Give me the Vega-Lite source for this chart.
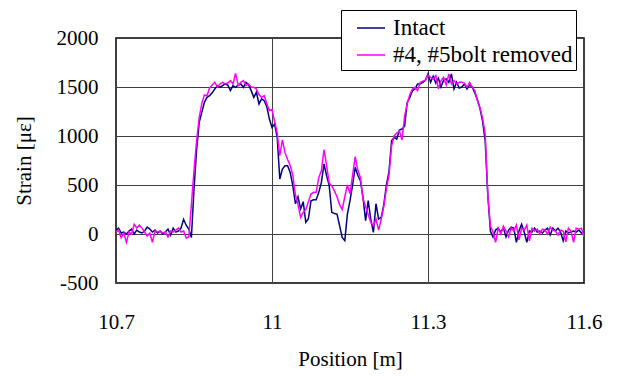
{
  "$schema": "https://vega.github.io/schema/vega-lite/v6.json",
  "width": 468,
  "height": 245,
  "autosize": {"type": "none"},
  "padding": {"left": 116, "top": 38, "right": 37, "bottom": 93},
  "background": "white",
  "config": {
    "font": "Liberation Serif, serif",
    "view": {"stroke": "#000", "strokeWidth": 1.5}
  },
  "data": {"values": [
    {"p":10.700,"s":40,"c":"Intact"},{"p":10.705,"s":60,"c":"Intact"},{"p":10.710,"s":10,"c":"Intact"},{"p":10.715,"s":20,"c":"Intact"},{"p":10.720,"s":0,"c":"Intact"},
    {"p":10.725,"s":30,"c":"Intact"},{"p":10.730,"s":50,"c":"Intact"},{"p":10.735,"s":0,"c":"Intact"},{"p":10.740,"s":40,"c":"Intact"},{"p":10.745,"s":20,"c":"Intact"},
    {"p":10.750,"s":10,"c":"Intact"},{"p":10.755,"s":30,"c":"Intact"},{"p":10.760,"s":70,"c":"Intact"},{"p":10.765,"s":50,"c":"Intact"},{"p":10.770,"s":20,"c":"Intact"},
    {"p":10.775,"s":40,"c":"Intact"},{"p":10.780,"s":10,"c":"Intact"},{"p":10.785,"s":30,"c":"Intact"},{"p":10.790,"s":0,"c":"Intact"},{"p":10.795,"s":20,"c":"Intact"},
    {"p":10.800,"s":50,"c":"Intact"},{"p":10.805,"s":-10,"c":"Intact"},{"p":10.810,"s":60,"c":"Intact"},{"p":10.815,"s":20,"c":"Intact"},{"p":10.820,"s":30,"c":"Intact"},
    {"p":10.825,"s":60,"c":"Intact"},{"p":10.830,"s":150,"c":"Intact"},{"p":10.835,"s":90,"c":"Intact"},{"p":10.840,"s":50,"c":"Intact"},{"p":10.845,"s":-35,"c":"Intact"},
    {"p":10.850,"s":459,"c":"Intact"},{"p":10.855,"s":860,"c":"Intact"},{"p":10.860,"s":1139,"c":"Intact"},{"p":10.865,"s":1241,"c":"Intact"},{"p":10.870,"s":1343,"c":"Intact"},
    {"p":10.875,"s":1394,"c":"Intact"},{"p":10.880,"s":1411,"c":"Intact"},{"p":10.885,"s":1440,"c":"Intact"},{"p":10.890,"s":1480,"c":"Intact"},{"p":10.895,"s":1514,"c":"Intact"},
    {"p":10.900,"s":1497,"c":"Intact"},{"p":10.905,"s":1514,"c":"Intact"},{"p":10.910,"s":1531,"c":"Intact"},{"p":10.915,"s":1520,"c":"Intact"},{"p":10.920,"s":1463,"c":"Intact"},
    {"p":10.925,"s":1514,"c":"Intact"},{"p":10.930,"s":1497,"c":"Intact"},{"p":10.935,"s":1520,"c":"Intact"},{"p":10.940,"s":1531,"c":"Intact"},{"p":10.945,"s":1497,"c":"Intact"},
    {"p":10.950,"s":1548,"c":"Intact"},{"p":10.955,"s":1520,"c":"Intact"},{"p":10.960,"s":1463,"c":"Intact"},{"p":10.965,"s":1394,"c":"Intact"},{"p":10.970,"s":1446,"c":"Intact"},
    {"p":10.975,"s":1327,"c":"Intact"},{"p":10.980,"s":1378,"c":"Intact"},{"p":10.985,"s":1360,"c":"Intact"},{"p":10.990,"s":1300,"c":"Intact"},{"p":10.995,"s":1173,"c":"Intact"},
    {"p":11.000,"s":1088,"c":"Intact"},{"p":11.005,"s":1122,"c":"Intact"},{"p":11.010,"s":986,"c":"Intact"},{"p":11.015,"s":561,"c":"Intact"},{"p":11.020,"s":663,"c":"Intact"},
    {"p":11.025,"s":697,"c":"Intact"},{"p":11.030,"s":697,"c":"Intact"},{"p":11.035,"s":629,"c":"Intact"},{"p":11.040,"s":493,"c":"Intact"},{"p":11.045,"s":309,"c":"Intact"},
    {"p":11.050,"s":380,"c":"Intact"},{"p":11.055,"s":255,"c":"Intact"},{"p":11.060,"s":330,"c":"Intact"},{"p":11.065,"s":119,"c":"Intact"},{"p":11.070,"s":156,"c":"Intact"},
    {"p":11.075,"s":340,"c":"Intact"},{"p":11.080,"s":350,"c":"Intact"},{"p":11.085,"s":350,"c":"Intact"},{"p":11.090,"s":425,"c":"Intact"},{"p":11.095,"s":527,"c":"Intact"},
    {"p":11.100,"s":714,"c":"Intact"},{"p":11.105,"s":595,"c":"Intact"},{"p":11.110,"s":493,"c":"Intact"},{"p":11.115,"s":221,"c":"Intact"},{"p":11.120,"s":210,"c":"Intact"},
    {"p":11.125,"s":204,"c":"Intact"},{"p":11.130,"s":85,"c":"Intact"},{"p":11.135,"s":-35,"c":"Intact"},{"p":11.140,"s":-68,"c":"Intact"},{"p":11.145,"s":204,"c":"Intact"},
    {"p":11.150,"s":340,"c":"Intact"},{"p":11.155,"s":500,"c":"Intact"},{"p":11.160,"s":680,"c":"Intact"},{"p":11.165,"s":600,"c":"Intact"},{"p":11.170,"s":544,"c":"Intact"},
    {"p":11.175,"s":374,"c":"Intact"},{"p":11.180,"s":136,"c":"Intact"},{"p":11.185,"s":340,"c":"Intact"},{"p":11.190,"s":150,"c":"Intact"},{"p":11.195,"s":17,"c":"Intact"},
    {"p":11.200,"s":309,"c":"Intact"},{"p":11.205,"s":153,"c":"Intact"},{"p":11.210,"s":170,"c":"Intact"},{"p":11.215,"s":300,"c":"Intact"},{"p":11.220,"s":500,"c":"Intact"},
    {"p":11.225,"s":640,"c":"Intact"},{"p":11.230,"s":952,"c":"Intact"},{"p":11.235,"s":986,"c":"Intact"},{"p":11.240,"s":969,"c":"Intact"},{"p":11.245,"s":1060,"c":"Intact"},
    {"p":11.250,"s":1071,"c":"Intact"},{"p":11.255,"s":1100,"c":"Intact"},{"p":11.260,"s":1343,"c":"Intact"},{"p":11.265,"s":1394,"c":"Intact"},{"p":11.270,"s":1460,"c":"Intact"},
    {"p":11.275,"s":1480,"c":"Intact"},{"p":11.280,"s":1531,"c":"Intact"},{"p":11.285,"s":1531,"c":"Intact"},{"p":11.290,"s":1548,"c":"Intact"},{"p":11.295,"s":1570,"c":"Intact"},
    {"p":11.300,"s":1633,"c":"Intact"},{"p":11.305,"s":1548,"c":"Intact"},{"p":11.310,"s":1610,"c":"Intact"},{"p":11.315,"s":1540,"c":"Intact"},{"p":11.320,"s":1590,"c":"Intact"},
    {"p":11.325,"s":1500,"c":"Intact"},{"p":11.330,"s":1570,"c":"Intact"},{"p":11.335,"s":1582,"c":"Intact"},{"p":11.340,"s":1548,"c":"Intact"},{"p":11.345,"s":1633,"c":"Intact"},
    {"p":11.350,"s":1480,"c":"Intact"},{"p":11.355,"s":1548,"c":"Intact"},{"p":11.360,"s":1490,"c":"Intact"},{"p":11.365,"s":1500,"c":"Intact"},{"p":11.370,"s":1531,"c":"Intact"},
    {"p":11.375,"s":1480,"c":"Intact"},{"p":11.380,"s":1520,"c":"Intact"},{"p":11.385,"s":1500,"c":"Intact"},{"p":11.390,"s":1440,"c":"Intact"},{"p":11.395,"s":1370,"c":"Intact"},
    {"p":11.400,"s":1280,"c":"Intact"},{"p":11.405,"s":1150,"c":"Intact"},{"p":11.410,"s":950,"c":"Intact"},{"p":11.415,"s":400,"c":"Intact"},{"p":11.420,"s":30,"c":"Intact"},
    {"p":11.425,"s":-30,"c":"Intact"},{"p":11.430,"s":40,"c":"Intact"},{"p":11.435,"s":60,"c":"Intact"},{"p":11.440,"s":20,"c":"Intact"},{"p":11.445,"s":60,"c":"Intact"},
    {"p":11.450,"s":-30,"c":"Intact"},{"p":11.455,"s":40,"c":"Intact"},{"p":11.460,"s":70,"c":"Intact"},{"p":11.465,"s":60,"c":"Intact"},{"p":11.470,"s":-85,"c":"Intact"},
    {"p":11.475,"s":30,"c":"Intact"},{"p":11.480,"s":100,"c":"Intact"},{"p":11.485,"s":20,"c":"Intact"},{"p":11.490,"s":-85,"c":"Intact"},{"p":11.495,"s":30,"c":"Intact"},
    {"p":11.500,"s":20,"c":"Intact"},{"p":11.505,"s":60,"c":"Intact"},{"p":11.510,"s":20,"c":"Intact"},{"p":11.515,"s":30,"c":"Intact"},{"p":11.520,"s":10,"c":"Intact"},
    {"p":11.525,"s":40,"c":"Intact"},{"p":11.530,"s":60,"c":"Intact"},{"p":11.535,"s":-10,"c":"Intact"},{"p":11.540,"s":60,"c":"Intact"},{"p":11.545,"s":30,"c":"Intact"},
    {"p":11.550,"s":60,"c":"Intact"},{"p":11.555,"s":20,"c":"Intact"},{"p":11.560,"s":-68,"c":"Intact"},{"p":11.565,"s":30,"c":"Intact"},{"p":11.570,"s":10,"c":"Intact"},
    {"p":11.575,"s":20,"c":"Intact"},{"p":11.580,"s":30,"c":"Intact"},{"p":11.585,"s":20,"c":"Intact"},{"p":11.590,"s":40,"c":"Intact"},{"p":11.595,"s":10,"c":"Intact"},
    {"p":11.600,"s":20,"c":"Intact"},

    {"p":10.700,"s":20,"c":"#4, #5bolt removed"},{"p":10.705,"s":40,"c":"#4, #5bolt removed"},{"p":10.710,"s":-40,"c":"#4, #5bolt removed"},{"p":10.715,"s":10,"c":"#4, #5bolt removed"},{"p":10.720,"s":-85,"c":"#4, #5bolt removed"},
    {"p":10.725,"s":20,"c":"#4, #5bolt removed"},{"p":10.730,"s":0,"c":"#4, #5bolt removed"},{"p":10.735,"s":100,"c":"#4, #5bolt removed"},{"p":10.740,"s":60,"c":"#4, #5bolt removed"},{"p":10.745,"s":90,"c":"#4, #5bolt removed"},
    {"p":10.750,"s":60,"c":"#4, #5bolt removed"},{"p":10.755,"s":20,"c":"#4, #5bolt removed"},{"p":10.760,"s":-20,"c":"#4, #5bolt removed"},{"p":10.765,"s":10,"c":"#4, #5bolt removed"},{"p":10.770,"s":-85,"c":"#4, #5bolt removed"},
    {"p":10.775,"s":30,"c":"#4, #5bolt removed"},{"p":10.780,"s":20,"c":"#4, #5bolt removed"},{"p":10.785,"s":30,"c":"#4, #5bolt removed"},{"p":10.790,"s":10,"c":"#4, #5bolt removed"},{"p":10.795,"s":20,"c":"#4, #5bolt removed"},
    {"p":10.800,"s":-30,"c":"#4, #5bolt removed"},{"p":10.805,"s":30,"c":"#4, #5bolt removed"},{"p":10.810,"s":20,"c":"#4, #5bolt removed"},{"p":10.815,"s":40,"c":"#4, #5bolt removed"},{"p":10.820,"s":60,"c":"#4, #5bolt removed"},
    {"p":10.825,"s":20,"c":"#4, #5bolt removed"},{"p":10.830,"s":30,"c":"#4, #5bolt removed"},{"p":10.835,"s":-40,"c":"#4, #5bolt removed"},{"p":10.840,"s":-30,"c":"#4, #5bolt removed"},{"p":10.845,"s":300,"c":"#4, #5bolt removed"},
    {"p":10.850,"s":650,"c":"#4, #5bolt removed"},{"p":10.855,"s":950,"c":"#4, #5bolt removed"},{"p":10.860,"s":1190,"c":"#4, #5bolt removed"},{"p":10.865,"s":1330,"c":"#4, #5bolt removed"},{"p":10.870,"s":1420,"c":"#4, #5bolt removed"},
    {"p":10.875,"s":1411,"c":"#4, #5bolt removed"},{"p":10.880,"s":1490,"c":"#4, #5bolt removed"},{"p":10.885,"s":1520,"c":"#4, #5bolt removed"},{"p":10.890,"s":1548,"c":"#4, #5bolt removed"},{"p":10.895,"s":1500,"c":"#4, #5bolt removed"},
    {"p":10.900,"s":1531,"c":"#4, #5bolt removed"},{"p":10.905,"s":1548,"c":"#4, #5bolt removed"},{"p":10.910,"s":1531,"c":"#4, #5bolt removed"},{"p":10.915,"s":1540,"c":"#4, #5bolt removed"},{"p":10.920,"s":1565,"c":"#4, #5bolt removed"},
    {"p":10.925,"s":1531,"c":"#4, #5bolt removed"},{"p":10.930,"s":1640,"c":"#4, #5bolt removed"},{"p":10.935,"s":1514,"c":"#4, #5bolt removed"},{"p":10.940,"s":1548,"c":"#4, #5bolt removed"},{"p":10.945,"s":1565,"c":"#4, #5bolt removed"},
    {"p":10.950,"s":1514,"c":"#4, #5bolt removed"},{"p":10.955,"s":1531,"c":"#4, #5bolt removed"},{"p":10.960,"s":1500,"c":"#4, #5bolt removed"},{"p":10.965,"s":1497,"c":"#4, #5bolt removed"},{"p":10.970,"s":1480,"c":"#4, #5bolt removed"},
    {"p":10.975,"s":1420,"c":"#4, #5bolt removed"},{"p":10.980,"s":1394,"c":"#4, #5bolt removed"},{"p":10.985,"s":1411,"c":"#4, #5bolt removed"},{"p":10.990,"s":1330,"c":"#4, #5bolt removed"},{"p":10.995,"s":1260,"c":"#4, #5bolt removed"},
    {"p":11.000,"s":1270,"c":"#4, #5bolt removed"},{"p":11.005,"s":1150,"c":"#4, #5bolt removed"},{"p":11.010,"s":1030,"c":"#4, #5bolt removed"},{"p":11.015,"s":800,"c":"#4, #5bolt removed"},{"p":11.020,"s":960,"c":"#4, #5bolt removed"},
    {"p":11.025,"s":830,"c":"#4, #5bolt removed"},{"p":11.030,"s":760,"c":"#4, #5bolt removed"},{"p":11.035,"s":700,"c":"#4, #5bolt removed"},{"p":11.040,"s":600,"c":"#4, #5bolt removed"},{"p":11.045,"s":400,"c":"#4, #5bolt removed"},
    {"p":11.050,"s":300,"c":"#4, #5bolt removed"},{"p":11.055,"s":170,"c":"#4, #5bolt removed"},{"p":11.060,"s":221,"c":"#4, #5bolt removed"},{"p":11.065,"s":250,"c":"#4, #5bolt removed"},{"p":11.070,"s":330,"c":"#4, #5bolt removed"},
    {"p":11.075,"s":408,"c":"#4, #5bolt removed"},{"p":11.080,"s":425,"c":"#4, #5bolt removed"},{"p":11.085,"s":425,"c":"#4, #5bolt removed"},{"p":11.090,"s":578,"c":"#4, #5bolt removed"},{"p":11.095,"s":646,"c":"#4, #5bolt removed"},
    {"p":11.100,"s":860,"c":"#4, #5bolt removed"},{"p":11.105,"s":700,"c":"#4, #5bolt removed"},{"p":11.110,"s":520,"c":"#4, #5bolt removed"},{"p":11.115,"s":490,"c":"#4, #5bolt removed"},{"p":11.120,"s":440,"c":"#4, #5bolt removed"},
    {"p":11.125,"s":380,"c":"#4, #5bolt removed"},{"p":11.130,"s":300,"c":"#4, #5bolt removed"},{"p":11.135,"s":250,"c":"#4, #5bolt removed"},{"p":11.140,"s":380,"c":"#4, #5bolt removed"},{"p":11.145,"s":500,"c":"#4, #5bolt removed"},
    {"p":11.150,"s":410,"c":"#4, #5bolt removed"},{"p":11.155,"s":600,"c":"#4, #5bolt removed"},{"p":11.160,"s":790,"c":"#4, #5bolt removed"},{"p":11.165,"s":650,"c":"#4, #5bolt removed"},{"p":11.170,"s":578,"c":"#4, #5bolt removed"},
    {"p":11.175,"s":360,"c":"#4, #5bolt removed"},{"p":11.180,"s":280,"c":"#4, #5bolt removed"},{"p":11.185,"s":200,"c":"#4, #5bolt removed"},{"p":11.190,"s":119,"c":"#4, #5bolt removed"},{"p":11.195,"s":85,"c":"#4, #5bolt removed"},
    {"p":11.200,"s":153,"c":"#4, #5bolt removed"},{"p":11.205,"s":40,"c":"#4, #5bolt removed"},{"p":11.210,"s":150,"c":"#4, #5bolt removed"},{"p":11.215,"s":280,"c":"#4, #5bolt removed"},{"p":11.220,"s":460,"c":"#4, #5bolt removed"},
    {"p":11.225,"s":600,"c":"#4, #5bolt removed"},{"p":11.230,"s":900,"c":"#4, #5bolt removed"},{"p":11.235,"s":1003,"c":"#4, #5bolt removed"},{"p":11.240,"s":1030,"c":"#4, #5bolt removed"},{"p":11.245,"s":1050,"c":"#4, #5bolt removed"},
    {"p":11.250,"s":960,"c":"#4, #5bolt removed"},{"p":11.255,"s":1200,"c":"#4, #5bolt removed"},{"p":11.260,"s":1330,"c":"#4, #5bolt removed"},{"p":11.265,"s":1420,"c":"#4, #5bolt removed"},{"p":11.270,"s":1480,"c":"#4, #5bolt removed"},
    {"p":11.275,"s":1497,"c":"#4, #5bolt removed"},{"p":11.280,"s":1463,"c":"#4, #5bolt removed"},{"p":11.285,"s":1548,"c":"#4, #5bolt removed"},{"p":11.290,"s":1560,"c":"#4, #5bolt removed"},{"p":11.295,"s":1565,"c":"#4, #5bolt removed"},
    {"p":11.300,"s":1620,"c":"#4, #5bolt removed"},{"p":11.305,"s":1599,"c":"#4, #5bolt removed"},{"p":11.310,"s":1582,"c":"#4, #5bolt removed"},{"p":11.315,"s":1616,"c":"#4, #5bolt removed"},{"p":11.320,"s":1480,"c":"#4, #5bolt removed"},
    {"p":11.325,"s":1565,"c":"#4, #5bolt removed"},{"p":11.330,"s":1599,"c":"#4, #5bolt removed"},{"p":11.335,"s":1520,"c":"#4, #5bolt removed"},{"p":11.340,"s":1633,"c":"#4, #5bolt removed"},{"p":11.345,"s":1531,"c":"#4, #5bolt removed"},
    {"p":11.350,"s":1565,"c":"#4, #5bolt removed"},{"p":11.355,"s":1531,"c":"#4, #5bolt removed"},{"p":11.360,"s":1548,"c":"#4, #5bolt removed"},{"p":11.365,"s":1548,"c":"#4, #5bolt removed"},{"p":11.370,"s":1540,"c":"#4, #5bolt removed"},
    {"p":11.375,"s":1497,"c":"#4, #5bolt removed"},{"p":11.380,"s":1548,"c":"#4, #5bolt removed"},{"p":11.385,"s":1500,"c":"#4, #5bolt removed"},{"p":11.390,"s":1463,"c":"#4, #5bolt removed"},{"p":11.395,"s":1360,"c":"#4, #5bolt removed"},
    {"p":11.400,"s":1292,"c":"#4, #5bolt removed"},{"p":11.405,"s":1180,"c":"#4, #5bolt removed"},{"p":11.410,"s":1020,"c":"#4, #5bolt removed"},{"p":11.415,"s":400,"c":"#4, #5bolt removed"},{"p":11.420,"s":80,"c":"#4, #5bolt removed"},
    {"p":11.425,"s":20,"c":"#4, #5bolt removed"},{"p":11.430,"s":-85,"c":"#4, #5bolt removed"},{"p":11.435,"s":60,"c":"#4, #5bolt removed"},{"p":11.440,"s":0,"c":"#4, #5bolt removed"},{"p":11.445,"s":80,"c":"#4, #5bolt removed"},
    {"p":11.450,"s":30,"c":"#4, #5bolt removed"},{"p":11.455,"s":-30,"c":"#4, #5bolt removed"},{"p":11.460,"s":60,"c":"#4, #5bolt removed"},{"p":11.465,"s":30,"c":"#4, #5bolt removed"},{"p":11.470,"s":90,"c":"#4, #5bolt removed"},
    {"p":11.475,"s":-60,"c":"#4, #5bolt removed"},{"p":11.480,"s":60,"c":"#4, #5bolt removed"},{"p":11.485,"s":40,"c":"#4, #5bolt removed"},{"p":11.490,"s":90,"c":"#4, #5bolt removed"},{"p":11.495,"s":-70,"c":"#4, #5bolt removed"},
    {"p":11.500,"s":60,"c":"#4, #5bolt removed"},{"p":11.505,"s":30,"c":"#4, #5bolt removed"},{"p":11.510,"s":50,"c":"#4, #5bolt removed"},{"p":11.515,"s":0,"c":"#4, #5bolt removed"},{"p":11.520,"s":50,"c":"#4, #5bolt removed"},
    {"p":11.525,"s":40,"c":"#4, #5bolt removed"},{"p":11.530,"s":0,"c":"#4, #5bolt removed"},{"p":11.535,"s":70,"c":"#4, #5bolt removed"},{"p":11.540,"s":40,"c":"#4, #5bolt removed"},{"p":11.545,"s":30,"c":"#4, #5bolt removed"},
    {"p":11.550,"s":-10,"c":"#4, #5bolt removed"},{"p":11.555,"s":40,"c":"#4, #5bolt removed"},{"p":11.560,"s":30,"c":"#4, #5bolt removed"},{"p":11.565,"s":-80,"c":"#4, #5bolt removed"},{"p":11.570,"s":60,"c":"#4, #5bolt removed"},
    {"p":11.575,"s":30,"c":"#4, #5bolt removed"},{"p":11.580,"s":-85,"c":"#4, #5bolt removed"},{"p":11.585,"s":60,"c":"#4, #5bolt removed"},{"p":11.590,"s":50,"c":"#4, #5bolt removed"},{"p":11.595,"s":60,"c":"#4, #5bolt removed"},
    {"p":11.600,"s":-30,"c":"#4, #5bolt removed"}
  ]},
  "mark": {"type": "line", "strokeWidth": 1.5, "clip": true},
  "encoding": {
    "x": {
      "field": "p", "type": "quantitative",
      "scale": {"domain": [10.7, 11.6], "nice": false, "zero": false},
      "axis": {
        "values": [10.7, 11, 11.3, 11.6], "format": "~g",
        "title": "Position [m]", "grid": true, "gridColor": "#404040", "gridWidth": 1,
        "ticks": false, "domain": false, "labelPadding": 28,
        "labelFont": "Liberation Serif, serif", "labelFontSize": 21, "labelColor": "#000",
        "titleFont": "Liberation Serif, serif", "titleFontSize": 21, "titleFontWeight": "normal", "titleColor": "#000",
        "titlePadding": 16, "labelFlush": false
      }
    },
    "y": {
      "field": "s", "type": "quantitative",
      "scale": {"domain": [-500, 2000], "nice": false, "zero": false},
      "axis": {
        "values": [-500, 0, 500, 1000, 1500, 2000], "labelExpr": "'' + datum.value",
        "title": "Strain [με]", "grid": true, "gridColor": "#404040", "gridWidth": 1,
        "ticks": false, "domain": false, "labelPadding": 18,
        "labelFont": "Liberation Serif, serif", "labelFontSize": 21, "labelColor": "#000",
        "titleFont": "Liberation Serif, serif", "titleFontSize": 21, "titleFontWeight": "normal", "titleColor": "#000",
        "titlePadding": 22, "labelFlush": false
      }
    },
    "color": {
      "field": "c", "type": "nominal",
      "scale": {"domain": ["Intact", "#4, #5bolt removed"], "range": ["#000080", "#FF00FF"]},
      "legend": {
        "orient": "none", "legendX": 225, "legendY": -28, "title": null,
        "symbolType": "stroke", "symbolSize": 784, "symbolStrokeWidth": 1.5,
        "labelFont": "Liberation Serif, serif", "labelFontSize": 23, "labelColor": "#000", "labelLimit": 400,
        "labelOffset": 7, "symbolOffset": 12, "padding": 3, "rowPadding": 0,
        "strokeColor": "#000", "fillColor": "#fff"
      }
    }
  }
}
